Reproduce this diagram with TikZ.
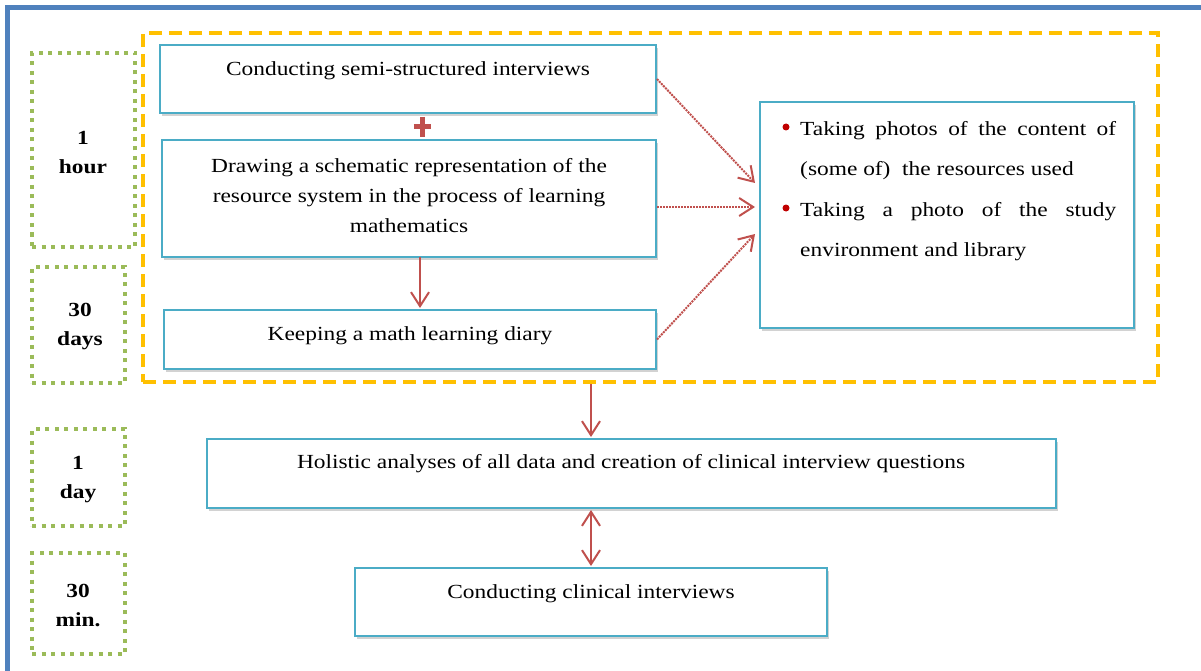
\documentclass[tikz,border=0pt]{standalone}
\usepackage{fontspec}
\setmainfont[FakeStretch=1.17]{Liberation Serif}
\usetikzlibrary{arrows.meta,shadows,calc}
\definecolor{frameblue}{HTML}{4F81BD}
\definecolor{boxblue}{HTML}{4BACC6}
\definecolor{orangeY}{HTML}{FFC000}
\definecolor{greenD}{HTML}{9BBB59}
\definecolor{redA}{HTML}{C0504D}
\definecolor{bulletred}{HTML}{C00000}
\begin{document}
\begin{tikzpicture}[x=1pt,y=-1pt,
 txt/.style={font=\fontsize{20}{30}\selectfont, inner sep=0pt, align=center, text=black},
 lab/.style={font=\bfseries\fontsize{20}{29}\selectfont, inner sep=0pt, align=center},
 stepbox/.style={draw=boxblue, line width=2pt, fill=white, drop shadow={opacity=0.35, shadow xshift=2pt, shadow yshift=-3pt}, inner sep=0pt},
 timebox/.style={draw=greenD, line width=4pt, dash pattern=on 4pt off 5.5pt, inner sep=0pt},
 groupbox/.style={draw=orangeY, line width=4pt, dash pattern=on 13pt off 7pt, inner sep=0pt},
 tipS/.tip={Straight Barb[length=14pt,width=18pt]},
 flow/.style={draw=redA, line width=2pt, -tipS},
 dotflow/.style={draw=redA, line width=2pt, densely dotted, -tipS},
 bul/.style={circle, fill=bulletred, inner sep=0pt, minimum size=7pt},
 btxt/.style={font=\fontsize{20}{40}\selectfont, inner sep=0pt, text width=316pt, align=justify, anchor=north west},
]
\useasboundingbox (0,0) rectangle (1201,671);
\fill[white] (0,0) rectangle (1201,671);
% outer frame (top and left sides visible)
\draw[frameblue, line width=5pt] (7.5,671) -- (7.5,7.5) -- (1201,7.5);

% orange group box
\node[groupbox, minimum width=1015pt, minimum height=349pt] (O) at (650.5,207.5) {};

% time boxes
\node[timebox, minimum width=103pt, minimum height=194pt] (G1) at (83.5,150) {};
\node[timebox, minimum width=93pt, minimum height=116pt] (G2) at (78.5,325) {};
\node[timebox, minimum width=93pt, minimum height=97pt] (G3) at (78.5,477.5) {};
\node[timebox, minimum width=93pt, minimum height=101pt] (G4) at (78.5,603.5) {};
\node[lab] (L1) at (83,152.5) {1\\hour};
\node[lab] (L2) at (80,326.5) {30\\days};
\node[lab] (L3) at (78,479.5) {1\\day};
\node[lab] (L4) at (78,605.5) {30\\min.};

% step boxes
\node[stepbox, minimum width=496pt, minimum height=68pt] (A) at (408,79) {};
\node[stepbox, minimum width=494pt, minimum height=117pt] (B) at (409,198.5) {};
\node[stepbox, minimum width=492pt, minimum height=59pt] (C) at (410,339.5) {};
\node[stepbox, minimum width=374pt, minimum height=226pt] (D) at (947,215) {};
\node[stepbox, minimum width=849pt, minimum height=69pt] (E) at (631.5,473.5) {};
\node[stepbox, minimum width=472pt, minimum height=68pt] (F) at (591,602) {};

\node[txt] (tA) at (408,71) {Conducting semi-structured interviews};
\node[txt] (tB) at (409,196) {Drawing a schematic representation of the\\resource system in the process of learning\\mathematics};
\node[txt] (tC) at (410,336) {Keeping a math learning diary};
\node[txt] (tE) at (631,464) {Holistic analyses of all data and creation of clinical interview questions};
\node[txt] (tF) at (591,594) {Conducting clinical interviews};

% bullets in D
\node[bul] (b1) at (786,127) {};
\node[bul] (b2) at (786,208) {};
\node[btxt] (t1) at (800,121) {Taking photos of the content of\linebreak (some of)\ \ the resources used};
\node[btxt] (t2) at (800,202) {Taking a photo of the study\linebreak environment and library};

% plus sign
\node[inner sep=0pt, minimum width=17pt, minimum height=20pt] (plus) at (422.5,127) {};
\draw[redA, line width=5pt] (plus.west) -- (plus.east) (plus.north) -- (plus.south);

% connectors
\coordinate (bc) at (420,257);
\draw[flow, shorten >=1pt] (bc) -- (bc |- C.north);
\coordinate (d1) at (755,183);
\coordinate (d2) at (755,207);
\coordinate (d3) at (755,234);
\draw[dotflow] (A.east) -- (d1);
\draw[dotflow] ($(B.east)+(0,8.5)$) -- (d2);
\draw[dotflow] (C.east) -- (d3);
\draw[flow, shorten >=1pt] (O.south -| F.north) -- (E.north -| F.north);
\draw[flow, tipS-tipS, shorten >=1pt, shorten <=1pt] (E.south -| F.north) -- (F.north);
\end{tikzpicture}
\end{document}
